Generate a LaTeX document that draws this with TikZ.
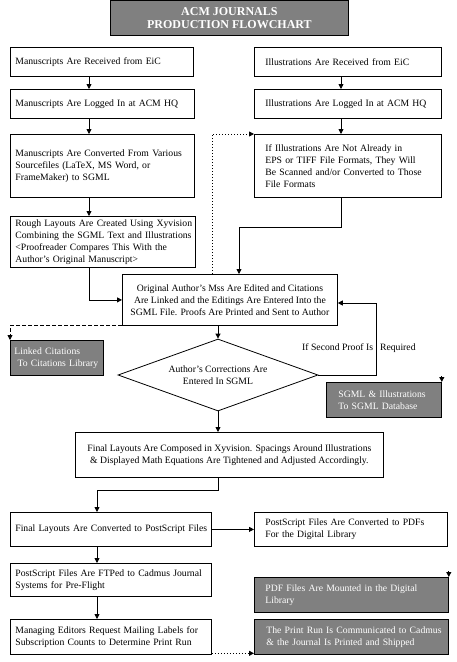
\documentclass[tikz,border=0pt]{standalone}
\usepackage{fontspec}
\setmainfont{Liberation Serif}
\usetikzlibrary{arrows.meta,shapes.geometric}
\definecolor{boxgray}{RGB}{128,128,128}
\begin{document}
\begin{tikzpicture}[x=1pt,y=-1pt,
  procbox/.style={draw,line width=0.8pt,inner sep=0pt,anchor=north west,align=left,font=\fontsize{9.7}{12}\selectfont},
  graybox/.style={procbox,fill=boxgray,text=white},
  lpad/.style={execute at begin node={\leftskip=#1\rightskip=0pt plus 1fil minus 40pt\hyphenpenalty=10000}},
  arr/.style={line width=0.8pt,-{Triangle[length=5pt,width=5pt]}},
  dotarr/.style={arr,dash pattern=on 1pt off 2pt},
  dasharr/.style={arr,dash pattern=on 4pt off 2pt}]
\useasboundingbox (0,0) rectangle (457,662);
\coordinate (colL) at (89,0);
\coordinate (colR) at (341,0);
\coordinate (colB) at (97,0);
\coordinate (dotX) at (212,0);
\coordinate (bendA) at (239,227);
\coordinate (bendB) at (97,490);
\coordinate (ret) at (376,303);

\node[graybox,minimum width=238pt,minimum height=35pt,align=center,font=\bfseries\fontsize{12}{13}\selectfont] (title) at (110,0) {ACM JOURNALS\\PRODUCTION FLOWCHART};

% manuscripts
\node[procbox,text width=183pt,minimum height=29pt,lpad=5pt] (L1) at (10,47) {Manuscripts Are Received from EiC};
\node[procbox,text width=184pt,minimum height=29pt,lpad=5pt] (L2) at (10,89) {Manuscripts Are Logged In at ACM HQ};
\node[procbox,text width=184pt,minimum height=63pt,lpad=5pt] (L3) at (10,134) {Manuscripts Are Converted From Various\\Sourcefiles (LaTeX, MS Word, or\\FrameMaker) to SGML};
\node[procbox,text width=185pt,minimum height=51pt,lpad=5pt] (L4) at (10,216) {Rough Layouts Are Created Using Xyvision\\Combining the SGML Text and Illustrations\\<Proofreader Compares This With the\\Author's Original Manuscript>};

% illustrations
\node[procbox,text width=187pt,minimum height=29pt,lpad=11pt] (R1) at (254,47) {Illustrations Are Received from EiC};
\node[procbox,text width=187pt,minimum height=29pt,lpad=11pt] (R2) at (254,89) {Illustrations Are Logged In at ACM HQ};
\node[procbox,text width=187pt,minimum height=63pt,lpad=11pt] (R3) at (254,134) {If Illustrations Are Not Already in\\EPS or TIFF File Formats, They Will\\Be Scanned and/or Converted to Those\\File Formats};

\node[procbox,minimum width=215pt,minimum height=51pt,align=center] (edit) at (122,274) {Original Author's Mss Are Edited and Citations\\Are Linked and the Editings Are Entered Into the\\SGML File. Proofs Are Printed and Sent to Author};
\node[graybox,text width=93pt,minimum height=35pt,lpad=4pt] (link) at (10,340) {Linked Citations\\\ To Citations Library};
\node[draw,diamond,aspect=2.78,minimum width=200pt,minimum height=72pt,inner sep=0pt,line width=0.8pt,align=center,font=\fontsize{9.7}{12}\selectfont] (dia) at (218,375) {Author's Corrections Are\\Entered In SGML};
\node[anchor=west,inner sep=0pt,font=\fontsize{9.7}{12}\selectfont] (second) at (302,348) {If Second Proof Is\hspace{7pt}Required};
\node[graybox,text width=115pt,minimum height=35pt,lpad=12pt] (sgml) at (326,382) {SGML \& Illustrations\\To SGML Database};
\node[procbox,minimum width=308pt,minimum height=45pt,align=center] (compose) at (75,432) {Final Layouts Are Composed in Xyvision. Spacings Around Illustrations\\\& Displayed Math Equations Are Tightened and Adjusted Accordingly.};

% final steps
\node[procbox,text width=201pt,minimum height=34pt,lpad=5pt] (conv) at (10,512) {Final Layouts Are Converted to PostScript Files};
\node[procbox,text width=193pt,minimum height=34pt,lpad=11pt] (pdf) at (254,512) {PostScript Files Are Converted to PDFs\\For the Digital Library};
\node[procbox,text width=201pt,minimum height=33pt,lpad=5pt] (ftp) at (10,563) {PostScript Files Are FTPed to Cadmus Journal\\Systems for Pre-Flight};
\node[graybox,text width=194pt,minimum height=35pt,lpad=11pt] (mount) at (254,577) {PDF Files Are Mounted in the Digital\\Library};
\node[procbox,text width=201pt,minimum height=35pt,lpad=5pt] (manage) at (10,619) {Managing Editors Request Mailing Labels for\\Subscription Counts to Determine Print Run};
\node[graybox,text width=194pt,minimum height=35pt,lpad=12pt] (print) at (254,619) {The Print Run Is Communicated to Cadmus\\\& the Journal Is Printed and Shipped};

\draw[arr] (L1.south -| colL) -- (L2.north -| colL);
\draw[arr] (L2.south -| colL) -- (L3.north -| colL);
\draw[arr] (L3.south -| colL) -- (L4.north -| colL);
\draw[arr] (R1.south -| colR) -- (R2.north -| colR);
\draw[arr] (R2.south -| colR) -- (R3.north -| colR);
\draw[arr] (R3.south -| colR) |- (bendA) -- (bendA |- edit.north);
\draw[dotarr] (edit.north -| dotX) |- (R3.north west);
\draw[arr] (L4.south -| colL) |- (edit.west);
\draw[dasharr] (edit.south west) -| (link.north west);
\draw[arr] (dia.north |- edit.south) -- (dia.north);
\draw[arr] (dia.east) -| (ret) -- (ret -| edit.east);
\draw[arr] ([yshift=6pt]sgml.north east) -- (sgml.north east);
\draw[arr] (dia.south) -- (dia.south |- compose.north);
\draw[arr] (dia.south |- compose.south) |- (bendB) -- (bendB |- conv.north);
\draw[arr] (conv.east) -- (conv.east -| pdf.west);
\draw[arr] (conv.south -| colB) -- (ftp.north -| colB);
\draw[arr] (ftp.south -| colB) -- (manage.north -| colB);
\draw[arr] ([yshift=6pt]mount.north east) -- (mount.north east);
\coordinate (mgout) at ([yshift=1.5pt]manage.south east);
\draw[dotarr] (mgout) -- (mgout -| print.west);
\end{tikzpicture}
\end{document}
